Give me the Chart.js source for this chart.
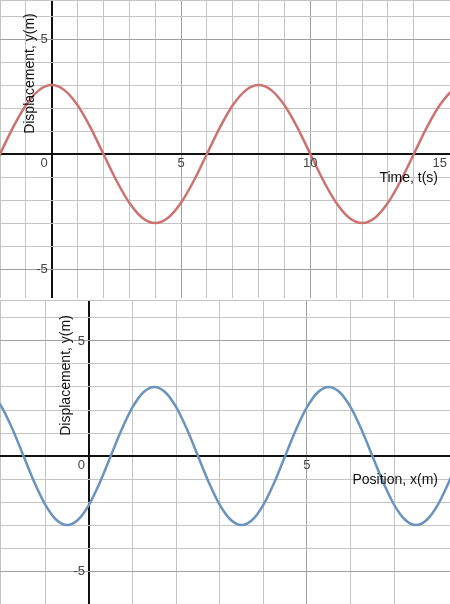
<!DOCTYPE html>
<html>
<head>
<meta charset="utf-8">
<script src="https://cdn.jsdelivr.net/npm/chart.js@4/dist/chart.umd.min.js"></script>
<style>
  body { margin: 0; background: #fff; width: 450px; height: 604px; overflow: hidden; }
  .box { position: absolute; left: 0; width: 450px; }
</style>
</head>
<body>
<div class="box" style="top:0;height:298px"><canvas id="timeChart"></canvas></div>
<div class="box" style="top:300px;height:304px"><canvas id="posChart"></canvas></div>
<script>
// Displacement vs time
const timeT = [-2.5, -2, -1.5, -1, -0.5, 0, 0.5, 1, 1.5, 2, 2.5, 3, 3.5, 4, 4.5, 5, 5.5, 6, 6.5, 7, 7.5, 8,
  8.5, 9, 9.5, 10, 10.5, 11, 11.5, 12, 12.5, 13, 13.5, 14, 14.5, 15, 15.5, 16];
const timeY = [-1.15, 0, 1.15, 2.12, 2.77, 3, 2.77, 2.12, 1.15, 0, -1.15, -2.12, -2.77, -3, -2.77, -2.12, -1.15, 0, 1.15, 2.12, 2.77, 3,
  2.77, 2.12, 1.15, 0, -1.15, -2.12, -2.77, -3, -2.77, -2.12, -1.15, 0, 1.15, 2.12, 2.77, 3];

// Displacement vs position
const posX = [-2.5, -2.25, -2, -1.75, -1.5, -1.25, -1, -0.75, -0.5, -0.25, 0, 0.25, 0.5, 0.75, 1, 1.25, 1.5, 1.75, 2, 2.25,
  2.5, 2.75, 3, 3.25, 3.5, 3.75, 4, 4.25, 4.5, 4.75, 5, 5.25, 5.5, 5.75, 6, 6.25, 6.5, 6.75, 7, 7.25, 7.5, 7.75, 8, 8.25, 8.5];
const posY = [3, 2.77, 2.12, 1.15, 0, -1.15, -2.12, -2.77, -3, -2.77, -2.12, -1.15, 0, 1.15, 2.12, 2.77, 3, 2.77, 2.12, 1.15,
  0, -1.15, -2.12, -2.77, -3, -2.77, -2.12, -1.15, 0, 1.15, 2.12, 2.77, 3, 2.77, 2.12, 1.15, 0, -1.15, -2.12, -2.77, -3, -2.77, -2.12, -1.15, 0];

// tick labels shown next to the axes
const timeXTicks = [0, 5, 10, 15];
const posXTicks = [0, 5];
const yTicks = [5, -5];

function gridColor(ctx) {
  if (ctx.tick.value === 0) return '#111';
  return ctx.tick.value % 5 === 0 ? '#a0a0a0' : '#c4c4c4';
}

// draws Desmos-like tick labels and axis titles inside the plot
function axisLabels(xTicks, xTitle, yTitle, yTitleX) {
  return {
    id: 'axisLabels',
    afterDraw(chart) {
      const c = chart.ctx, sx = chart.scales.x, sy = chart.scales.y;
      const x0 = sx.getPixelForValue(0), y0 = sy.getPixelForValue(0);
      c.save();
      c.fillStyle = '#444';
      c.font = '13px Arial, "Liberation Sans", sans-serif';
      c.textBaseline = 'top';
      xTicks.forEach(v => {
        const px = sx.getPixelForValue(v);
        c.textAlign = v === 0 ? 'right' : 'center';
        c.fillText(String(v), v === 0 ? px - 4 : px, y0 + 3);
      });
      c.textAlign = 'right';
      c.textBaseline = 'middle';
      yTicks.forEach(v => {
        c.fillText(v < 0 ? '-' + Math.abs(v) : String(v), x0 - 4, sy.getPixelForValue(v));
      });
      c.fillStyle = '#111';
      c.font = '14px Arial, "Liberation Sans", sans-serif';
      c.textAlign = 'right';
      c.textBaseline = 'top';
      c.fillText(xTitle, chart.chartArea.right - 12, y0 + 17);
      c.translate(yTitleX, sy.getPixelForValue(3.5));
      c.rotate(-Math.PI / 2);
      c.textAlign = 'center';
      c.textBaseline = 'middle';
      c.fillText(yTitle, 0, 0);
      c.restore();
    }
  };
}

function makeChart(id, xs, ys, color, xMin, xMax, yMin, yMax, plugin) {
  return new Chart(document.getElementById(id), {
    type: 'scatter',
    data: {
      datasets: [{
        data: xs.map((x, i) => ({ x: x, y: ys[i] })),
        showLine: true,
        borderColor: color,
        borderWidth: 2.5,
        pointRadius: 0,
        cubicInterpolationMode: 'monotone',
        clip: 0
      }]
    },
    options: {
      responsive: true,
      maintainAspectRatio: false,
      animation: false,
      layout: { padding: 0 },
      plugins: { legend: { display: false }, tooltip: { enabled: false } },
      scales: {
        x: {
          type: 'linear', min: xMin, max: xMax, display: true,
          ticks: { display: false, stepSize: 1 },
          grid: { color: gridColor, lineWidth: c => c.tick.value === 0 ? 2 : 1, drawTicks: false },
          border: { display: false }
        },
        y: {
          type: 'linear', min: yMin, max: yMax, display: true,
          ticks: { display: false, stepSize: 1 },
          grid: { color: gridColor, lineWidth: c => c.tick.value === 0 ? 2 : 1, drawTicks: false },
          border: { display: false }
        }
      }
    },
    plugins: [plugin]
  });
}

makeChart('timeChart', timeT, timeY, '#cc7270', -2.0, 15.4, -6.26, 6.7,
  axisLabels(timeXTicks, 'Time, t(s)', 'Displacement, y(m)', 30));
makeChart('posChart', posX, posY, '#6a93bd', -2.04, 8.28, -6.43, 6.78,
  axisLabels(posXTicks, 'Position, x(m)', 'Displacement, y(m)', 66));
</script>
</body>
</html>
